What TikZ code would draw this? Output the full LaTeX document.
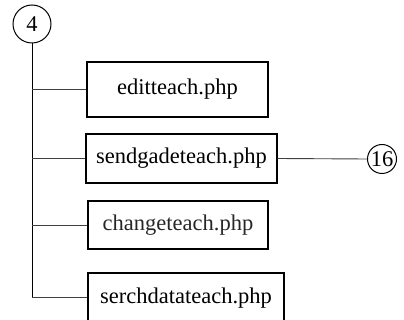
\documentclass[tikz,border=0pt]{standalone}
\usepackage{fontspec}
\setmainfont{Liberation Serif}
\begin{document}
\begin{tikzpicture}[x=1pt,y=-1pt,
  filebox/.style={draw=black,line width=1.1pt,inner sep=0pt,font=\fontsize{22.5}{26}\selectfont},
  refcirc/.style={draw=black,line width=1pt,circle,inner sep=0pt,font=\fontsize{22.5}{26}\selectfont},
  link/.style={draw=black!75,line width=0.9pt}]
\useasboundingbox (0,0) rectangle (404,320);
\clip (0,0) rectangle (404,320);
\node[refcirc,minimum size=38pt] (c4) at (32,24) {4};
\node[refcirc,minimum size=29pt] (c16) at (382,159) {16};
\node[filebox,minimum width=181pt,minimum height=55pt] (b1) at (177.5,89.5) {editteach.php};
\node[filebox,minimum width=191pt,minimum height=49pt] (b2) at (181.5,158.5) {sendgadeteach.php};
\node[filebox,minimum width=180pt,minimum height=48pt,text=black!85] (b3) at (178,225) {changeteach.php};
\node[filebox,minimum width=196pt,minimum height=50pt] (b4) at (186,298) {serchdatateach.php};
\coordinate (bend) at (32,297);
\draw[link,black] (c4.south) -- (bend);
\draw[link] (bend) -- (b4.west |- bend);
\draw[link] (c4.south |- b1.west) -- (b1.west);
\draw[link] (c4.south |- b2.west) -- (b2.west);
\draw[link] (c4.south |- b3.west) -- (b3.west);
\draw[link] (b2.east) -- (c16.west);
\end{tikzpicture}
\end{document}
